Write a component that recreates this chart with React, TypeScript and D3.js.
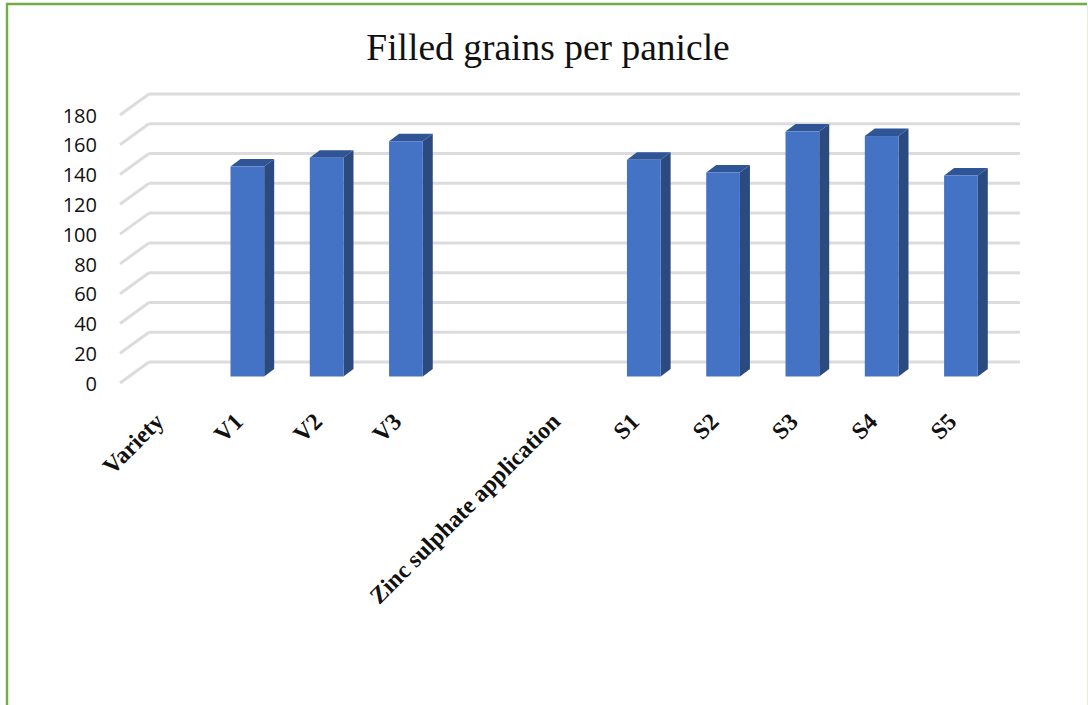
import React from "react";
import * as d3 from "d3";

const chartTitle = "Filled grains per panicle";
const categories = ["Variety", "V1", "V2", "V3", " ", "Zinc sulphate application", "S1", "S2", "S3", "S4", "S5"];
const grainCounts = [null, 141, 147, 158, null, null, 145.5, 137, 164.5, 161.5, 135];
const yTicks = [0, 20, 40, 60, 80, 100, 120, 140, 160, 180];

const WIDTH = 1088;
const HEIGHT = 705;
const FLOOR_FRONT = 383.5;
const BAR_BASE = 376.5;
const WALL_BASE = 362;
const UNIT = 268 / 180;
const BAR_DX = 10;
const BAR_DY = -7.5;

const x = d3.scaleBand<string>().domain(categories).range([129, 1000]).paddingInner(0.575).paddingOuter(0.28);
const yBar = d3.scaleLinear().domain([0, 180]).range([BAR_BASE, BAR_BASE - 180 * UNIT]);
const yWall = d3.scaleLinear().domain([0, 180]).range([WALL_BASE, WALL_BASE - 180 * UNIT]);
const yFront = d3.scaleLinear().domain([0, 180]).range([FLOOR_FRONT, FLOOR_FRONT - 180 * UNIT]);

const points = (p: number[][]) => p.map((q) => q.join(",")).join(" ");

export default function App() {
  return (
    <svg width={WIDTH} height={HEIGHT} style={{ position: "absolute", left: 0, top: 0, background: "#fff" }}>
      {/* frame */}
      <path d="M7,705 V4 H1087" fill="none" stroke="#70ad47" strokeWidth={2.4} />
      <line x1={1087.5} y1={4} x2={1087.5} y2={705} stroke="#e2efd9" strokeWidth={1} />

      <text x={548} y={60} textAnchor="middle" fontFamily="'Liberation Serif', serif" fontSize={37.5} fill="#111">
        {chartTitle}
      </text>

      {/* back wall and side wall gridlines */}
      {yTicks.map((t) => (
        <g key={t}>
          <line x1={149} x2={1020} y1={yWall(t)} y2={yWall(t)} stroke="#dcdcdc" strokeWidth={3} />
          <line x1={149} y1={yWall(t)} x2={120} y2={yWall(t) + 21} stroke="#dcdcdc" strokeWidth={3} />
        </g>
      ))}

      {/* y axis labels */}
      {yTicks.map((t) => (
        <text key={t} x={97} y={yFront(t)} dy="0.36em" textAnchor="end" fontFamily="'Open Sans', sans-serif" fontSize={20} fill="#111">
          {t}
        </text>
      ))}

      {/* extruded bars */}
      {categories.map((c, i) => {
        const v = grainCounts[i];
        if (v == null) return null;
        const x0 = x(c)!;
        const x1 = x0 + x.bandwidth();
        const top = yBar(v);
        return (
          <g key={c}>
            <polygon
              points={points([[x1, top], [x1 + BAR_DX, top + BAR_DY], [x1 + BAR_DX, BAR_BASE + BAR_DY], [x1, BAR_BASE]])}
              fill="#2a4a80"
            />
            <polygon
              points={points([[x0, top], [x0 + BAR_DX, top + BAR_DY], [x1 + BAR_DX, top + BAR_DY], [x1, top]])}
              fill="#2f5597"
            />
            <rect x={x0} y={top} width={x.bandwidth()} height={BAR_BASE - top} fill="#4472c4" />
          </g>
        );
      })}

      {/* slanted category labels */}
      {categories.map((c) => (
        <text
          key={c}
          transform={`translate(${x(c)! + x.bandwidth() / 2 - 3},${423}) rotate(-45)`}
          textAnchor="end"
          fontFamily="'Liberation Serif', serif"
          fontWeight="bold"
          fontSize={23.8}
          fill="#111"
        >
          {c}
        </text>
      ))}
    </svg>
  );
}
